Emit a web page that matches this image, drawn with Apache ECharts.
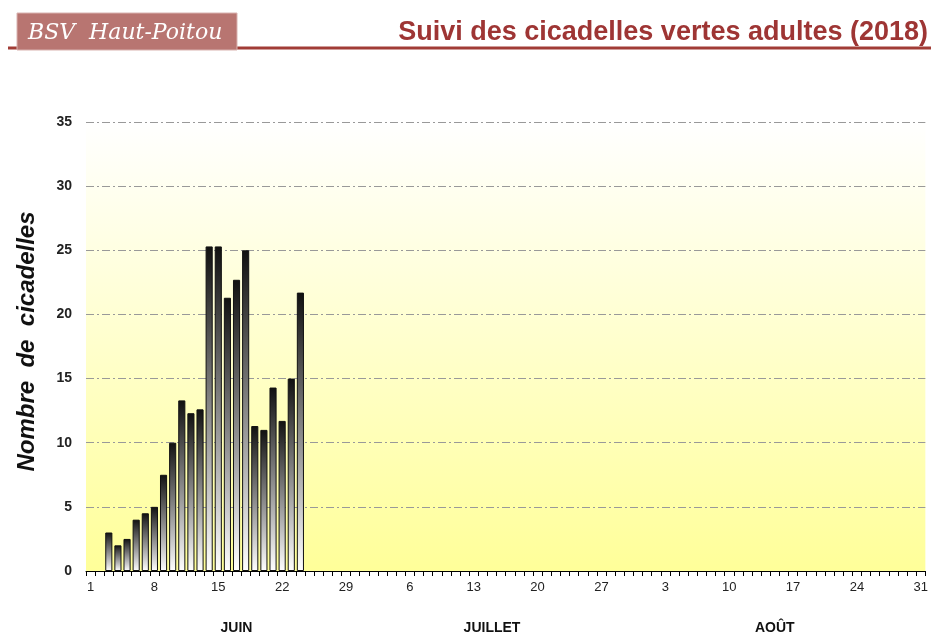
<!DOCTYPE html>
<html style="height: 100%">
<head>
<meta charset="UTF-8">
<title>Suivi des cicadelles</title>
<script src="https://cdn.jsdelivr.net/npm/echarts@6/dist/echarts.min.js"></script>
</head>
<body style="height: 100%;margin: 0;background:#fff">
<div id="chart" style="width:931px;height:635px"></div>
<script type="text/javascript">
// months shown on the axis and their lengths (2018)
var monthNames = ['JUIN', 'JUILLET', 'AOÛT'];
var monthLengths = [30, 31, 31];
// day index (in the full axis) where each month label sits
var monthLabelIdx = [16, 44, 75];

// counts observed, first value is 3 June
var firstCountDay = 3;
var counts = [3, 2, 2.5, 4, 4.5, 5, 7.5, 10, 13.3, 12.3, 12.6, 25.3, 25.3, 21.3, 22.7, 25, 11.3, 11, 14.3, 11.7, 15, 21.7];

var yTicks = [0, 5, 10, 15, 20, 25, 30, 35];

// build day labels + series
var dayLabels = [];
for (var mi = 0; mi < monthLengths.length; mi++) {
	for (var d = 1; d <= monthLengths[mi]; d++) {
		dayLabels.push(String(d));
	}
}
var values = [];
for (var i = 0; i < dayLabels.length; i++) {
	var k = i - (firstCountDay - 1);
	values.push(k >= 0 && k < counts.length ? counts[k] : null);
}

var myChart = echarts.init(document.getElementById('chart'));

var option = {
	animation: false,
	grid: {
		left: 86, right: 3, top: 122, bottom: 64,
		show: true,
		borderWidth: 0,
		backgroundColor: new echarts.graphic.LinearGradient(0, 0, 0, 1, [
			{offset: 0, color: '#ffffff'},
			{offset: 1, color: '#ffff99'}
		])
	},
	graphic: [
		{type: 'line', shape: {x1: 8, y1: 48, x2: 931, y2: 48}, style: {stroke: '#a13c36', lineWidth: 3}},
		{type: 'rect', shape: {x: 17, y: 13, width: 220, height: 37}, style: {fill: '#b87571', stroke: '#d9b3b0', lineWidth: 1}},
		{type: 'text', left: 28, top: 22, style: {text: 'BSV  Haut-Poitou', fill: '#fff', font: 'italic 22px "DejaVu Serif"'}},
		{type: 'text', right: 3, top: 19, style: {text: 'Suivi des cicadelles vertes adultes (2018)', fill: '#9e3534', font: 'bold 27px "Liberation Sans", Arial'}}
	],
	xAxis: [{
		type: 'category',
		data: dayLabels,
		axisLine: {lineStyle: {color: '#000', width: 1}},
		axisTick: {show: true, interval: 0, length: 5, lineStyle: {color: '#000'}},
		axisLabel: {interval: 6, color: '#222', fontSize: 13, margin: 10, fontFamily: 'Liberation Sans'}
	}, {
		type: 'category',
		data: dayLabels,
		position: 'bottom',
		axisLine: {show: false},
		axisTick: {show: false},
		axisLabel: {
			interval: function (idx) { return monthLabelIdx.indexOf(idx) >= 0; },
			formatter: function (v, idx) {
				var j = monthLabelIdx.indexOf(idx);
				return j >= 0 ? monthNames[j] : '';
			},
			color: '#111', fontSize: 14, fontWeight: 'bold', margin: 50, fontFamily: 'Liberation Sans'
		}
	}],
	yAxis: {
		type: 'value',
		min: yTicks[0],
		max: yTicks[yTicks.length - 1],
		interval: 5,
		name: 'Nombre  de  cicadelles',
		nameLocation: 'middle',
		nameGap: 47,
		nameTextStyle: {fontSize: 24, fontStyle: 'italic', fontWeight: 'bold', color: '#111', fontFamily: 'Liberation Sans', padding: [0, 0, 0, 10]},
		axisLine: {show: false},
		axisTick: {show: false},
		axisLabel: {fontSize: 14, fontWeight: 'bold', color: '#222', margin: 14, fontFamily: 'Liberation Sans'},
		splitLine: {lineStyle: {color: '#999', width: 1, type: [8, 3, 2, 3]}}
	},
	series: [{
		type: 'bar',
		data: values,
		barCategoryGap: '22%',
		itemStyle: {
			borderColor: '#111',
			borderWidth: 1,
			color: new echarts.graphic.LinearGradient(0, 0, 0, 1, [
				{offset: 0, color: '#111111'},
				{offset: 0.5, color: '#888888'},
				{offset: 1, color: '#ffffff'}
			])
		}
	}]
};

myChart.setOption(option, true);
</script>
</body>
</html>
